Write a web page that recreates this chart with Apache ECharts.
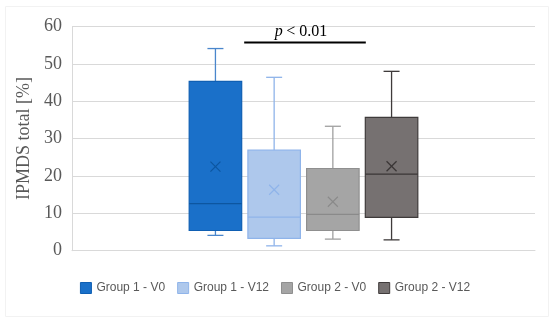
<!DOCTYPE html>
<html>
<head>
<meta charset="utf-8">
<script src="https://cdn.jsdelivr.net/npm/echarts@6/dist/echarts.min.js"></script>
<style>
html,body{margin:0;padding:0;background:#fff;}
#chart{width:550px;height:321px;}
</style>
</head>
<body>
<div id="chart"></div>
<script>
// ---- data ----
var groupNames = ['Group 1 - V0', 'Group 1 - V12', 'Group 2 - V0', 'Group 2 - V12'];
var whiskerLow = [4.1, 1.3, 3.1, 2.9];
var q1Values   = [5.4, 3.3, 5.4, 8.9];
var medians    = [12.6, 9.0, 9.7, 20.5];
var q3Values   = [45.3, 26.9, 22.0, 35.7];
var whiskerHigh= [54.1, 46.4, 33.3, 48.0];
var means      = [22.5, 16.3, 13.1, 22.6];
var yTicks = [0, 10, 20, 30, 40, 50, 60];
var annotationText = 'p < 0.01';
var annotationValue = 55.7;

var fills   = ['#1a70c9', '#aec8ec', '#a5a5a5', '#767171'];
var borders = ['#0f5fb3', '#8fb4ea', '#8f8f8f', '#3f3b3b'];
var whiskerColors = ['#4a86cc', '#8fb4ea', '#a0a0a0', '#3f3b3b'];
var medianColors  = ['#0d56a0', '#8fb4ea', '#8a8a8a', '#3a3636'];

var SPACING = 0.1268;  // fraction of band between box centres
var BOXW = 0.1134;     // fraction of band for box width
var CAP = 8;

function makeRender(i) {
  return function (params, api) {
    var band = api.size([1, 0])[0];
    var off = (i - 1.5) * SPACING * band;
    var hw = BOXW * band / 2;
    var pLow = api.coord([0, api.value(1)]);
    var pQ1 = api.coord([0, api.value(2)]);
    var pMed = api.coord([0, api.value(3)]);
    var pQ3 = api.coord([0, api.value(4)]);
    var pHigh = api.coord([0, api.value(5)]);
    var pMean = api.coord([0, api.value(6)]);
    var cx = pQ1[0] + off;
    var ws = {stroke: whiskerColors[i], lineWidth: 1.3};
    var ms = {stroke: medianColors[i], lineWidth: 1.2};
    return {
      type: 'group',
      children: [
        {type: 'line', shape: {x1: cx, y1: pHigh[1], x2: cx, y2: pQ3[1]}, style: ws},
        {type: 'line', shape: {x1: cx, y1: pLow[1], x2: cx, y2: pQ1[1]}, style: ws},
        {type: 'line', shape: {x1: cx - CAP, y1: pHigh[1], x2: cx + CAP, y2: pHigh[1]}, style: ws},
        {type: 'line', shape: {x1: cx - CAP, y1: pLow[1], x2: cx + CAP, y2: pLow[1]}, style: ws},
        {type: 'rect', shape: {x: cx - hw, y: pQ3[1], width: 2 * hw, height: pQ1[1] - pQ3[1]},
          style: {fill: fills[i], stroke: borders[i], lineWidth: 1.2}},
        {type: 'line', shape: {x1: cx - hw, y1: pMed[1], x2: cx + hw, y2: pMed[1]}, style: ms},
        {type: 'line', shape: {x1: cx - 5, y1: pMean[1] - 5, x2: cx + 5, y2: pMean[1] + 5}, style: ms},
        {type: 'line', shape: {x1: cx - 5, y1: pMean[1] + 5, x2: cx + 5, y2: pMean[1] - 5}, style: ms}
      ]
    };
  };
}

var series = groupNames.map(function (name, i) {
  return {
    type: 'custom',
    name: name,
    renderItem: makeRender(i),
    itemStyle: {color: fills[i], borderColor: borders[i], borderWidth: 1},
    encode: {x: 0, y: [1, 2, 3, 4, 5, 6]},
    data: [[0, whiskerLow[i], q1Values[i], medians[i], q3Values[i], whiskerHigh[i], means[i]]],
    silent: true
  };
});

series.push({
  type: 'custom',
  name: 'annotation',
  renderItem: function (params, api) {
    var band = api.size([1, 0])[0];
    var p = api.coord([0, api.value(1)]);
    var left = p[0] - 1.5 * SPACING * band + 0.5 * BOXW * band + 2.5;
    var right = p[0] + 1.5 * SPACING * band - 0.5 * BOXW * band + 0.5;
    return {
      type: 'group',
      children: [
        {type: 'line', shape: {x1: left, y1: p[1], x2: right, y2: p[1]}, style: {stroke: '#000', lineWidth: 2}},
        {type: 'text', x: (left + right) / 2 - 4, y: p[1] - 3,
          style: {
            text: '{i|p} {n|' + annotationText.slice(2) + '}',
            rich: {
              i: {fontFamily: 'Liberation Serif', fontStyle: 'italic', fontSize: 16, fill: '#000'},
              n: {fontFamily: 'Liberation Serif', fontSize: 16, fill: '#000'}
            },
            align: 'center', verticalAlign: 'bottom'
          }}
      ]
    };
  },
  encode: {x: 0, y: 1},
  data: [[0, annotationValue]],
  silent: true,
  z: 5
});

var chart = echarts.init(document.getElementById('chart'), null, {renderer: 'canvas'});
chart.setOption({
  animation: false,
  backgroundColor: '#fff',
  graphic: [{
    type: 'rect', left: 3, top: 4, shape: {width: 543, height: 310},
    style: {fill: 'none', stroke: '#f2f2f2', lineWidth: 1}, silent: true, z: -1
  }],
  grid: {left: 72, right: 15, top: 26.5, bottom: 70.3, containLabel: false},
  legend: {
    left: 'center', top: 277,
    itemWidth: 11, itemHeight: 11, itemGap: 12,
    icon: 'rect',
    textStyle: {fontFamily: 'Liberation Sans', fontSize: 12, color: '#595959'},
    data: groupNames.map(function (n, i) {
      return {name: n, itemStyle: {color: fills[i], borderColor: borders[i], borderWidth: 1}};
    })
  },
  xAxis: {
    type: 'category',
    data: [''],
    axisLine: {show: true, lineStyle: {color: '#d9d9d9'}},
    axisTick: {show: false},
    axisLabel: {show: false}
  },
  yAxis: {
    type: 'value',
    min: yTicks[0], max: yTicks[yTicks.length - 1], interval: 10,
    name: 'IPMDS total [%]',
    nameLocation: 'middle',
    nameGap: 38,
    nameTextStyle: {fontFamily: 'Liberation Serif', fontSize: 18, color: '#595959'},
    axisLine: {show: true, lineStyle: {color: '#d9d9d9'}},
    axisTick: {show: false},
    axisLabel: {fontFamily: 'Liberation Serif', fontSize: 18, color: '#595959', margin: 10},
    splitLine: {lineStyle: {color: '#d9d9d9', width: 1}}
  },
  series: series
});
</script>
</body>
</html>
